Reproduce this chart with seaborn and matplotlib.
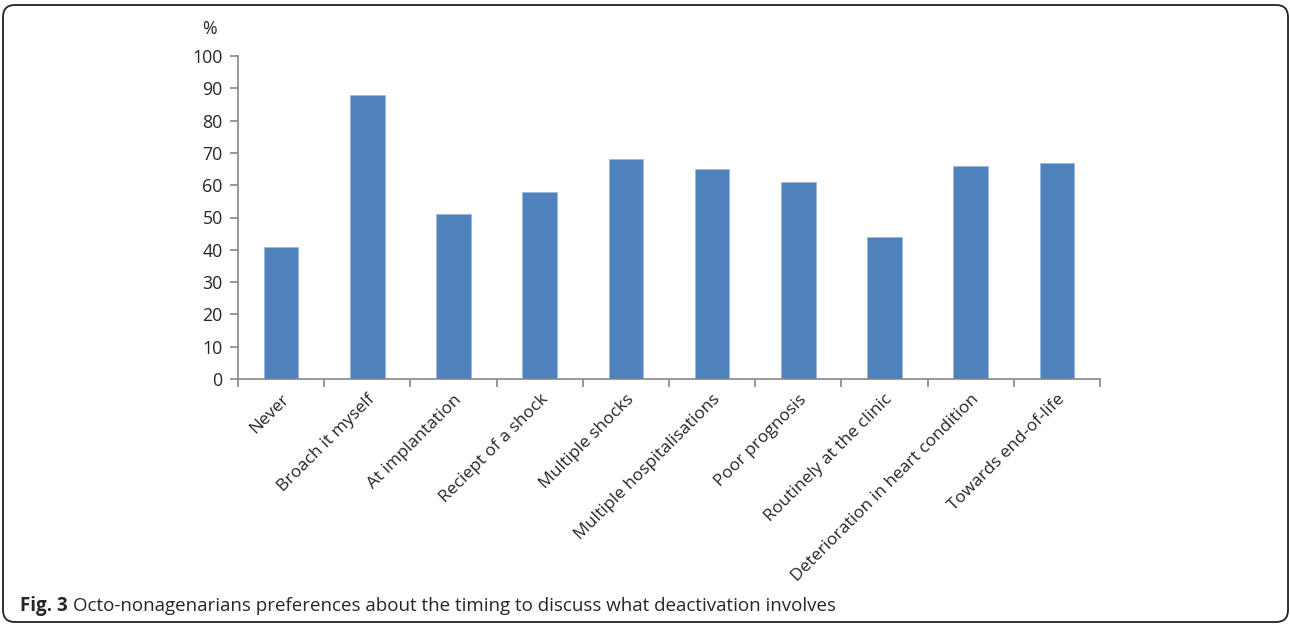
import matplotlib
matplotlib.use("Agg")
import matplotlib.pyplot as plt
import seaborn as sns
import pandas as pd
import numpy as np
from matplotlib.patches import FancyBboxPatch
from matplotlib.transforms import IdentityTransform
from matplotlib.ticker import FixedLocator

categories = ["Never", "Broach it myself", "At implantation", "Reciept of a shock",
              "Multiple shocks", "Multiple hospitalisations", "Poor prognosis",
              "Routinely at the clinic", "Deterioration in heart condition",
              "Towards end-of-life"]
values = [41, 88, 51, 58, 68, 65, 61, 44, 66, 67]
y_ticks = [0, 10, 20, 30, 40, 50, 60, 70, 80, 90, 100]
caption_bold = "Fig. 3"
caption_text = "Octo-nonagenarians preferences about the timing to discuss what deactivation involves"

sns.set_style("white")
plt.rcParams['font.family'] = ['Open Sans', 'DejaVu Sans']

df = pd.DataFrame({"category": categories, "value": values})

fig = plt.figure(figsize=(12.9, 6.25), dpi=100)
ax = fig.add_axes([238/1290, 1-379/625, (1100-238)/1290, (379-56)/625])

sns.barplot(data=df, x="category", y="value", ax=ax, color="#4F81BD",
            width=0.4, saturation=1, edgecolor="#9fb9dc", linewidth=0.6)

ax.set_xlim(-0.5, len(categories) - 0.5)
ax.set_ylim(0, 100)
ax.set_yticks(y_ticks)
ax.set_yticklabels([str(t) for t in y_ticks], fontsize=12.8)
ax.set_xlabel("")
ax.set_ylabel("")

# x ticks at category boundaries (Excel style)
ax.set_xticks(range(len(categories)))
ax.set_xticklabels(categories, rotation=45, ha="right", va="top",
                   rotation_mode="anchor", fontsize=12.5)
ax.tick_params(axis="x", which="major", length=0, pad=9)
ax.xaxis.set_minor_locator(FixedLocator(np.arange(-0.5, len(categories), 1.0)))
ax.tick_params(axis="x", which="minor", length=6, width=1.2, color="#868686", direction="out", bottom=True)
ax.tick_params(axis="y", which="major", length=6, width=1.2, color="#868686", direction="out", left=True, pad=5)

for side in ["top", "right"]:
    ax.spines[side].set_visible(False)
for side in ["left", "bottom"]:
    ax.spines[side].set_color("#868686")
    ax.spines[side].set_linewidth(1.2)

fig.text(209/1290, 1-29/625, "%", fontsize=12.8, ha="center", va="center")

# caption
t1 = fig.text(20/1290, 1-606/625, caption_bold + " ", fontsize=13.5, fontweight="bold",
              ha="left", va="center")
fig.canvas.draw()
bb = t1.get_window_extent()
fig.text(bb.x1/1290, 1-606/625, caption_text, fontsize=13.5, ha="left", va="center")

# rounded border
border = FancyBboxPatch((3, 3), 1285, 617, boxstyle="round,pad=0,rounding_size=12",
                        transform=IdentityTransform(), facecolor="none",
                        edgecolor="#222222", linewidth=1.3)
fig.patches.append(border)

fig.savefig("out.png", dpi=100)
